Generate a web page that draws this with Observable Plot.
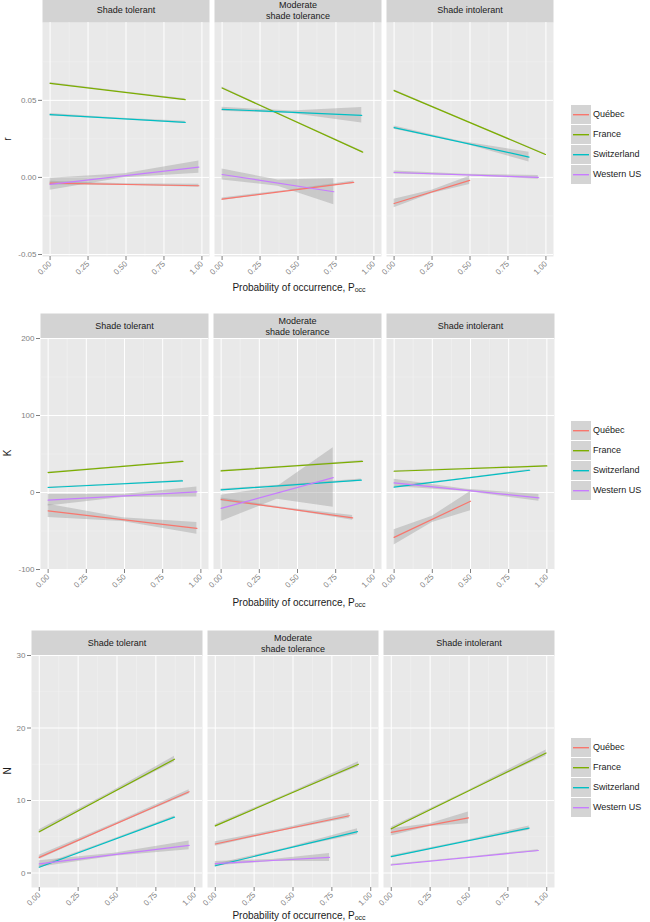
<!DOCTYPE html>
<html>
<head>
<meta charset="utf-8">
<script src="https://cdn.jsdelivr.net/npm/d3@7"></script>
<script src="https://cdn.jsdelivr.net/npm/@observablehq/plot@0.6"></script>
<style>
  body { margin: 0; background: #fff; }
  #fig { position: relative; width: 650px; height: 922px; overflow: hidden;
         font-family: "Liberation Sans", Arial, Helvetica, sans-serif; }
  .row { position: absolute; left: 0; }
  .ytitle { position: absolute; font-size: 10px; color: #1a1a1a;
            transform: translate(-50%, -50%) rotate(-90deg); }
  .xtitle { position: absolute; font-size: 10px; color: #1a1a1a; white-space: nowrap;
            transform: translate(-50%, -50%); }
  .xtitle span { font-size: 7px; vertical-align: -1px; }
  .legend { position: absolute; left: 571px; }
  .item { position: relative; height: 19px; margin-bottom: 1px; }
  .item svg { position: absolute; left: 0; top: 0; }
  .lab { position: absolute; left: 22px; top: 0; line-height: 19px; font-size: 9px; color: #1a1a1a; white-space: nowrap; }
</style>
</head>
<body>
<div id="fig"></div>
<script>
// Regions (colour legend) and shade-tolerance facets
const regions = ["Québec", "France", "Switzerland", "Western US"];
const regionColors = ["#F8766D", "#7CAE00", "#00BFC4", "#C77CFF"];
const toleranceGroups = ["Shade tolerant", "Moderate\nshade tolerance", "Shade intolerant"];

// Probability-of-occurrence axis
const xTicks = [0, 0.25, 0.5, 0.75, 1];
const xMinor = [0.125, 0.375, 0.625, 0.875];

// Linear fits: [facet, region, xStart, xEnd, yStart, yEnd, ci at start, ci at middle, ci at end]
const rFits = [
  [0, 0, 0, 0.98, -0.0037, -0.0054, 0.0012, 0.0005, 0.0010],
  [0, 1, 0, 0.89, 0.0610, 0.0505, 0.0006, 0.0003, 0.0006],
  [0, 2, 0, 0.89, 0.0407, 0.0357, 0.0008, 0.0004, 0.0008],
  [0, 3, 0, 0.98, -0.0045, 0.0067, 0.0039, 0.0013, 0.0040],
  [1, 0, 0, 0.867, -0.0141, -0.0032, 0.0008, 0.0004, 0.0008],
  [1, 1, 0, 0.926, 0.0580, 0.0164, 0.0006, 0.0003, 0.0006],
  [1, 2, 0, 0.92, 0.0442, 0.0403, 0.0013, 0.0008, 0.0050],
  [1, 3, 0, 0.736, 0.0019, -0.0093, 0.0036, 0.0020, 0.0084],
  [2, 0, 0, 0.498, -0.0169, -0.0019, 0.0027, 0.0010, 0.0027],
  [2, 1, 0, 0.997, 0.0563, 0.0149, 0.0005, 0.0003, 0.0005],
  [2, 2, 0, 0.889, 0.0323, 0.0132, 0.0010, 0.0005, 0.0032],
  [2, 3, 0, 0.95, 0.0032, 0.0000, 0.0010, 0.0005, 0.0012]
];
const kFits = [
  [0, 0, 0, 0.974, -23.8, -46.6, 8.6, 2.5, 7.5],
  [0, 1, 0, 0.883, 25.9, 40.5, 0.8, 0.4, 0.8],
  [0, 2, 0, 0.88, 6.5, 15.0, 0.8, 0.4, 0.8],
  [0, 3, 0, 0.974, -10.0, 0.8, 7.5, 2.0, 6.5],
  [1, 0, 0, 0.861, -9.1, -32.9, 2.0, 1.0, 3.0],
  [1, 1, 0, 0.926, 28.0, 40.5, 1.0, 0.5, 1.0],
  [1, 2, 0, 0.918, 3.4, 16.0, 1.2, 0.6, 1.5],
  [1, 3, 0, 0.734, -20.7, 19.4, 17.0, 8.0, 38.6],
  [2, 0, 0, 0.5, -58.3, -11.3, 10.0, 4.0, 12.5],
  [2, 1, 0, 1.0, 27.6, 34.5, 0.6, 0.3, 0.6],
  [2, 2, 0, 0.888, 6.9, 28.9, 0.8, 0.4, 1.0],
  [2, 3, 0, 0.948, 12.5, -7.0, 4.7, 1.5, 4.3]
];
const nFits = [
  [0, 0, 0, 0.964, 2.15, 11.2, 0.3, 0.15, 0.3],
  [0, 1, 0, 0.87, 5.7, 15.7, 0.25, 0.15, 0.4],
  [0, 2, 0, 0.87, 0.8, 7.7, 0.15, 0.08, 0.15],
  [0, 3, 0, 0.964, 1.25, 3.8, 0.45, 0.2, 0.6],
  [1, 0, 0, 0.862, 4.0, 7.9, 0.3, 0.15, 0.35],
  [1, 1, 0, 0.921, 6.5, 15.0, 0.2, 0.1, 0.35],
  [1, 2, 0, 0.915, 1.0, 5.7, 0.2, 0.1, 0.4],
  [1, 3, 0, 0.735, 1.3, 2.15, 0.3, 0.15, 0.55],
  [2, 0, 0, 0.496, 5.6, 7.6, 0.5, 0.2, 0.8],
  [2, 1, 0, 0.996, 6.1, 16.55, 0.2, 0.1, 0.4],
  [2, 2, 0, 0.887, 2.25, 6.2, 0.15, 0.08, 0.3],
  [2, 3, 0, 0.946, 1.1, 3.1, 0.1, 0.05, 0.12]
];

// Y axes for the three response variables
const rTicks = [-0.05, 0, 0.05];
const rMinor = [-0.025, 0.025, 0.075];
const kTicks = [-100, 0, 100, 200];
const kMinor = [-50, 50, 150];
const nTicks = [0, 10, 20, 30];
const nMinor = [5, 15, 25];

const panelFill = "#e9e9e9";
const stripFill = "#d3d3d3";
const minorGrid = "#f3f3f3";

function fitTables(fits) {
  const lines = [], bands = [];
  for (const [g, r, x0, x1, y0, y1, c0, cm, c1] of fits) {
    const group = toleranceGroups[g], region = regions[r];
    lines.push({group, region, x: x0, y: y0}, {group, region, x: x1, y: y1});
    const xm = (x0 + x1) / 2, ym = (y0 + y1) / 2;
    bands.push(
      {group, region, x: x0, lo: y0 - c0, hi: y0 + c0},
      {group, region, x: xm, lo: ym - cm, hi: ym + cm},
      {group, region, x: x1, lo: y1 - c1, hi: y1 + c1}
    );
  }
  return {lines, bands};
}

function facetRow({fits, yDomain, yTicks, yMinor, yFormat, marginLeft, panelH}) {
  const marginTop = 25, marginBottom = 26;
  const {lines, bands} = fitTables(fits);
  return Plot.plot({
    width: 560,
    height: marginTop + panelH + marginBottom,
    marginTop, marginBottom, marginLeft, marginRight: 6,
    style: {fontFamily: "Liberation Sans, Arial, Helvetica, sans-serif", fontSize: "8px", color: "#7f7f7f", background: "none", overflow: "visible"},
    fx: {domain: toleranceGroups, paddingInner: 0.03, paddingOuter: 0, axis: null},
    x: {domain: [-0.05, 1.05]},
    y: {domain: yDomain},
    color: {domain: regions, range: regionColors},
    marks: [
      Plot.frame({fill: panelFill, stroke: "none"}),
      Plot.frame({fill: stripFill, stroke: "none", insetTop: -marginTop, insetBottom: panelH}),
      Plot.gridX({ticks: xMinor, stroke: minorGrid, strokeOpacity: 1, strokeWidth: 0.5}),
      Plot.gridY({ticks: yMinor, stroke: minorGrid, strokeOpacity: 1, strokeWidth: 0.5}),
      Plot.gridX({ticks: xTicks, stroke: "#ffffff", strokeOpacity: 1, strokeWidth: 1}),
      Plot.gridY({ticks: yTicks, stroke: "#ffffff", strokeOpacity: 1, strokeWidth: 1}),
      Plot.areaY(bands, {fx: "group", x: "x", y1: "lo", y2: "hi", z: "region", fill: "#999999", fillOpacity: 0.4}),
      Plot.lineY(lines, {fx: "group", x: "x", y: "y", z: "region", stroke: "region", strokeWidth: 1.2}),
      Plot.text(toleranceGroups, {fx: d => d, text: d => d, frameAnchor: "top", lineAnchor: "middle", dy: -12.5,
        fontSize: 9, fill: "#1a1a1a", lineHeight: 1.2}),
      Plot.axisX({ticks: xTicks, tickFormat: d => d.toFixed(2), tickRotate: -45, tickSize: 4, tickPadding: 2, fontSize: 8, label: null}),
      Plot.axisY({ticks: yTicks, tickFormat: yFormat, tickSize: 4, tickPadding: 2, fontSize: 8, label: null})
    ]
  });
}

const fig = document.getElementById("fig");
const svgNS = "http://www.w3.org/2000/svg";

// Legend swatch: grey key with the region's line across it
function legendKey(color) {
  const svg = document.createElementNS(svgNS, "svg");
  svg.setAttribute("width", 20);
  svg.setAttribute("height", 19);
  const bg = document.createElementNS(svgNS, "rect");
  bg.setAttribute("width", 20);
  bg.setAttribute("height", 19);
  bg.setAttribute("fill", "#d4d4d4");
  const ln = document.createElementNS(svgNS, "rect");
  ln.setAttribute("x", 2);
  ln.setAttribute("y", 9);
  ln.setAttribute("width", 16);
  ln.setAttribute("height", 1.4);
  ln.setAttribute("fill", color);
  svg.append(bg, ln);
  return svg;
}

function addRow({top, yTitle, yTitleY, xTitleY, legendTop, plot}) {
  const row = document.createElement("div");
  row.className = "row";
  row.style.top = top + "px";
  row.appendChild(plot);
  fig.appendChild(row);

  const yt = document.createElement("div");
  yt.className = "ytitle";
  yt.style.left = "7px";
  yt.style.top = yTitleY + "px";
  yt.textContent = yTitle;
  fig.appendChild(yt);

  const xt = document.createElement("div");
  xt.className = "xtitle";
  xt.style.left = "299px";
  xt.style.top = xTitleY + "px";
  xt.innerHTML = "Probability of occurrence, P<span>occ</span>";
  fig.appendChild(xt);

  const lg = document.createElement("div");
  lg.className = "legend";
  lg.style.top = legendTop + "px";
  regions.forEach((name, i) => {
    const item = document.createElement("div");
    item.className = "item";
    item.appendChild(legendKey(regionColors[i]));
    const lab = document.createElement("div");
    lab.className = "lab";
    lab.textContent = name;
    item.appendChild(lab);
    lg.appendChild(item);
  });
  fig.appendChild(lg);
}

addRow({
  top: -3, yTitle: "r", yTitleY: 139, xTitleY: 287, legendTop: 105,
  plot: facetRow({fits: rFits, yDomain: [-0.0513, 0.1005], yTicks: rTicks, yMinor: rMinor,
    yFormat: d => d.toFixed(2), marginLeft: 41, panelH: 234})
});
addRow({
  top: 313, yTitle: "K", yTitleY: 453, xTitleY: 602, legendTop: 421,
  plot: facetRow({fits: kFits, yDomain: [-100, 200], yTicks: kTicks, yMinor: kMinor,
    yFormat: d => String(d), marginLeft: 39, panelH: 231})
});
addRow({
  top: 630, yTitle: "N", yTitleY: 771, xTitleY: 915, legendTop: 738,
  plot: facetRow({fits: nFits, yDomain: [-2, 30], yTicks: nTicks, yMinor: nMinor,
    yFormat: d => String(d), marginLeft: 30, panelH: 232})
});
</script>
</body>
</html>
